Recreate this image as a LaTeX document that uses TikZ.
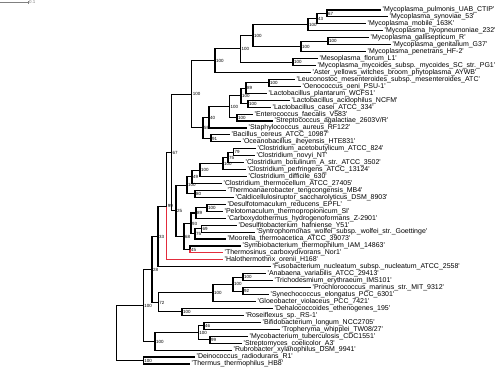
\documentclass[tikz,border=0pt]{standalone}
\usepackage{fontspec}
\setmainfont{Liberation Sans}
\definecolor{hl}{RGB}{226,44,60}
\newcommand{\lname}[1]{\textquotesingle#1\textquotesingle}
\begin{document}
\begin{tikzpicture}[x=1bp,y=-1bp,
  br/.style={line width=1.1bp},
  hlbr/.style={line width=1.1bp,draw=hl},
  leaf/.style={anchor=west,inner xsep=1.5bp,inner ysep=0pt,text height=5bp,text depth=1.2bp,font=\fontsize{7}{7}\selectfont},
  bs/.style={anchor=west,inner xsep=0.9bp,inner ysep=0pt,text height=3.3bp,text depth=0pt,font=\fontsize{4.5}{4.5}\selectfont},
  sbar/.style={draw=gray,line width=0.6bp}]
\useasboundingbox (0,0) rectangle (500,369);
% scale bar
\coordinate (sb1) at (0,2);
\coordinate (sb2) at (28,2);
\draw[sbar] (sb1) -- (sb2);
\draw[sbar] ([yshift=-1.5bp]sb2) -- ([yshift=1.5bp]sb2);
\node[bs,text=gray,anchor=west] (sbt) at (sb2) {0.1};
% leaves
\node[leaf] (l1) at (381,10.00) {\lname{Mycoplasma\_pulmonis\_UAB\_CTIP}};
\node[leaf] (l2) at (388,16.94) {\lname{Mycoplasma\_synoviae\_53}};
\node[leaf] (l3) at (366,23.88) {\lname{Mycoplasma\_mobile\_163K}};
\node[leaf] (l4) at (383,30.82) {\lname{Mycoplasma\_hyopneumoniae\_232}};
\node[leaf] (l5) at (369,37.76) {\lname{Mycoplasma\_gallisepticum\_R}};
\node[leaf] (l6) at (391,44.70) {\lname{Mycoplasma\_genitalium\_G37}};
\node[leaf] (l7) at (366,51.64) {\lname{Mycoplasma\_penetrans\_HF-2}};
\node[leaf] (l8) at (318,58.58) {\lname{Mesoplasma\_florum\_L1}};
\node[leaf] (l9) at (316,65.52) {\lname{Mycoplasma\_mycoides\_subsp.\_mycoides\_SC\_str.\_PG1}};
\node[leaf] (l10) at (311,72.46) {\lname{Aster\_yellows\_witches\_broom\_phytoplasma\_AYWB}};
\node[leaf] (l11) at (295,79.40) {\lname{Leuconostoc\_mesenteroides\_subsp.\_mesenteroides\_ATC}};
\node[leaf] (l12) at (301,86.34) {\lname{Oenococcus\_oeni\_PSU-1}};
\node[leaf] (l13) at (267,93.28) {\lname{Lactobacillus\_plantarum\_WCFS1}};
\node[leaf] (l14) at (290,100.22) {\lname{Lactobacillus\_acidophilus\_NCFM}};
\node[leaf] (l15) at (271,107.16) {\lname{Lactobacillus\_casei\_ATCC\_334}};
\node[leaf] (l16) at (253,114.10) {\lname{Enterococcus\_faecalis\_V583}};
\node[leaf] (l17) at (273,121.04) {\lname{Streptococcus\_agalactiae\_2603V/R}};
\node[leaf] (l18) at (247,127.98) {\lname{Staphylococcus\_aureus\_RF122}};
\node[leaf] (l19) at (230,134.92) {\lname{Bacillus\_cereus\_ATCC\_10987}};
\node[leaf] (l20) at (241,141.86) {\lname{Oceanobacillus\_iheyensis\_HTE831}};
\node[leaf] (l21) at (256,148.80) {\lname{Clostridium\_acetobutylicum\_ATCC\_824}};
\node[leaf] (l22) at (255,155.74) {\lname{Clostridium\_novyi\_NT}};
\node[leaf] (l23) at (244,162.68) {\lname{Clostridium\_botulinum\_A\_str.\_ATCC\_3502}};
\node[leaf] (l24) at (246,169.62) {\lname{Clostridium\_perfringens\_ATCC\_13124}};
\node[leaf] (l25) at (247,176.56) {\lname{Clostridium\_difficile\_630}};
\node[leaf] (l26) at (222,183.50) {\lname{Clostridium\_thermocellum\_ATCC\_27405}};
\node[leaf] (l27) at (226,190.44) {\lname{Thermoanaerobacter\_tengcongensis\_MB4}};
\node[leaf] (l28) at (234,197.38) {\lname{Caldicellulosiruptor\_saccharolyticus\_DSM\_8903}};
\node[leaf] (l29) at (226,204.32) {\lname{Desulfotomaculum\_reducens\_EPFL}};
\node[leaf] (l30) at (223,211.26) {\lname{Pelotomaculum\_thermopropionicum\_SI}};
\node[leaf] (l31) at (226,218.20) {\lname{Carboxydothermus\_hydrogenoformans\_Z-2901}};
\node[leaf] (l32) at (237,225.14) {\lname{Desulfitobacterium\_hafniense\_Y51}};
\node[leaf] (l33) at (255,232.08) {\lname{Syntrophomonas\_wolfei\_subsp.\_wolfei\_str.\_Goettinge}};
\node[leaf] (l34) at (226,239.02) {\lname{Moorella\_thermoacetica\_ATCC\_39073}};
\node[leaf] (l35) at (241,245.96) {\lname{Symbiobacterium\_thermophilum\_IAM\_14863}};
\node[leaf] (l36) at (223,252.90) {\lname{Thermosinus\_carboxydivorans\_Nor1}};
\node[leaf] (l37) at (223,259.84) {\lname{Halothermothrix\_orenii\_H168}};
\node[leaf] (l38) at (271,266.78) {\lname{Fusobacterium\_nucleatum\_subsp.\_nucleatum\_ATCC\_2558}};
\node[leaf] (l39) at (266,273.72) {\lname{Anabaena\_variabilis\_ATCC\_29413}};
\node[leaf] (l40) at (273,280.66) {\lname{Trichodesmium\_erythraeum\_IMS101}};
\node[leaf] (l41) at (311,287.60) {\lname{Prochlorococcus\_marinus\_str.\_MIT\_9312}};
\node[leaf] (l42) at (269,294.54) {\lname{Synechococcus\_elongatus\_PCC\_6301}};
\node[leaf] (l43) at (256,301.48) {\lname{Gloeobacter\_violaceus\_PCC\_7421}};
\node[leaf] (l44) at (273,308.42) {\lname{Dehalococcoides\_ethenogenes\_195}};
\node[leaf] (l45) at (244,315.36) {\lname{Roseiflexus\_sp.\_RS-1}};
\node[leaf] (l46) at (261,322.30) {\lname{Bifidobacterium\_longum\_NCC2705}};
\node[leaf] (l47) at (280,329.24) {\lname{Tropheryma\_whipplei\_TW08/27}};
\node[leaf] (l48) at (248,336.18) {\lname{Mycobacterium\_tuberculosis\_CDC1551}};
\node[leaf] (l49) at (242,343.12) {\lname{Streptomyces\_coelicolor\_A3}};
\node[leaf] (l50) at (232,350.06) {\lname{Rubrobacter\_xylanophilus\_DSM\_9941}};
\node[leaf] (l51) at (195,357.00) {\lname{Deinococcus\_radiodurans\_R1}};
\node[leaf] (l52) at (190,363.94) {\lname{Thermus\_thermophilus\_HB8}};
% internal nodes
\coordinate (m1) at (327,13.47);
\coordinate (m2) at (317,18.68);
\coordinate (m3) at (308,24.75);
\coordinate (m4) at (328,41.23);
\coordinate (m5) at (301,46.44);
\coordinate (m6) at (253,35.59);
\coordinate (m7) at (293,62.05);
\coordinate (m8) at (240.5,48.82);
\coordinate (m9) at (215,60.64);
\coordinate (lc1) at (269,82.87);
\coordinate (lc2) at (246,88.08);
\coordinate (lc3) at (248,103.69);
\coordinate (lc4) at (241,95.88);
\coordinate (lc5) at (237,117.57);
\coordinate (lc6) at (229.5,106.73);
\coordinate (b40) at (209,117.36);
\coordinate (b91) at (211,138.39);
\coordinate (b59) at (203,127.87);
\coordinate (lL) at (191.7,94.26);
\coordinate (c1) at (233.5,152.27);
\coordinate (c2) at (228,157.48);
\coordinate (c3) at (223,163.55);
\coordinate (c4) at (200,170.05);
\coordinate (c5) at (192,176.78);
\coordinate (t80) at (195,193.91);
\coordinate (c6) at (187,185.34);
\coordinate (d1) at (207,207.79);
\coordinate (d2) at (196,213.00);
\coordinate (d3) at (201.5,228.61);
\coordinate (d4) at (195,233.81);
\coordinate (d5) at (191,223.41);
\coordinate (s45) at (190,249.43);
\coordinate (d6) at (184,236.42);
\coordinate (n25) at (176,210.88);
\coordinate (n67) at (171.5,152.57);
\coordinate (n99) at (166.7,206.20);
\coordinate (n33) at (158,236.49);
\coordinate (cy1) at (243,277.19);
\coordinate (cy2) at (243,291.07);
\coordinate (cy3) at (233,284.13);
\coordinate (cy4) at (213,292.80);
\coordinate (ch) at (182,311.89);
\coordinate (n72) at (158.3,302.35);
\coordinate (n28) at (152,269.42);
\coordinate (ac1) at (204,325.77);
\coordinate (ac2) at (210,339.65);
\coordinate (ac3) at (198.3,332.71);
\coordinate (ac4) at (155,341.39);
\coordinate (nA) at (143.3,305.40);
\coordinate (dt) at (143.3,360.47);
\coordinate (root) at (116.7,332.94);
% branches to leaves
\foreach \p/\c in {m1/l1,m1/l2,m2/l3,m3/l4,m4/l5,m4/l6,m5/l7,m7/l8,m7/l9,m9/l10,
  lc1/l11,lc1/l12,lc2/l13,lc3/l14,lc3/l15,lc5/l16,lc5/l17,b40/l18,b91/l19,b91/l20,
  c1/l21,c1/l22,c2/l23,c3/l24,c4/l25,c5/l26,t80/l27,t80/l28,d1/l29,d1/l30,d2/l31,
  d3/l32,d3/l33,d4/l34,s45/l35,n33/l38,cy1/l39,cy1/l40,cy2/l41,cy2/l42,cy4/l43,
  ch/l44,ch/l45,ac1/l46,ac1/l47,ac2/l48,ac2/l49,ac4/l50,dt/l51,dt/l52}
  \draw[br] (\p) |- (\c.west);
\draw[hlbr] (s45) |- (l36.west);
\draw[hlbr] (n99) |- (l37.west);
% internal branches
\foreach \p/\c in {m2/m1,m3/m2,m5/m4,m6/m3,m6/m5,m8/m6,m8/m7,m9/m8,lL/m9,
  lc2/lc1,lc4/lc2,lc4/lc3,lc6/lc4,lc6/lc5,b40/lc6,b59/b40,b59/b91,lL/b59,
  c2/c1,c3/c2,c4/c3,c5/c4,c6/c5,c6/t80,d2/d1,d4/d3,d5/d2,d5/d4,d6/d5,d6/s45,
  n25/c6,n25/d6,n67/lL,n67/n25,n99/n67,n33/n99,n28/n33,n28/n72,
  cy3/cy1,cy3/cy2,cy4/cy3,n72/cy4,n72/ch,ac3/ac1,ac3/ac2,ac4/ac3,
  nA/n28,nA/ac4,root/nA,root/dt}
  \draw[br] (\p) |- (\c);
% support values
\foreach \n/\v in {m1/67,m2/43,m3/100,m4/100,m5/100,m6/100,m7/100,m8/100,m9/100,
  lc1/100,lc2/89,lc3/100,lc4/100,lc5/100,lc6/100,b40/40,b91/91,b59/59,lL/100,
  c1/79,c2/75,c3/100,c4/100,c5/49,t80/80,c6/100,d1/100,d2/89,d3/69,d4/75,d5/93,
  s45/45,d6/68,n25/25,n67/67,n99/99,n33/33,cy1/100,cy2/92,cy3/100,cy4/100,ch/100,
  n72/72,n28/28,ac1/46,ac2/99,ac3/100,ac4/100,nA/100,dt/100}
  \node[bs] (\n-v) at (\n) {\v};
\end{tikzpicture}
\end{document}
